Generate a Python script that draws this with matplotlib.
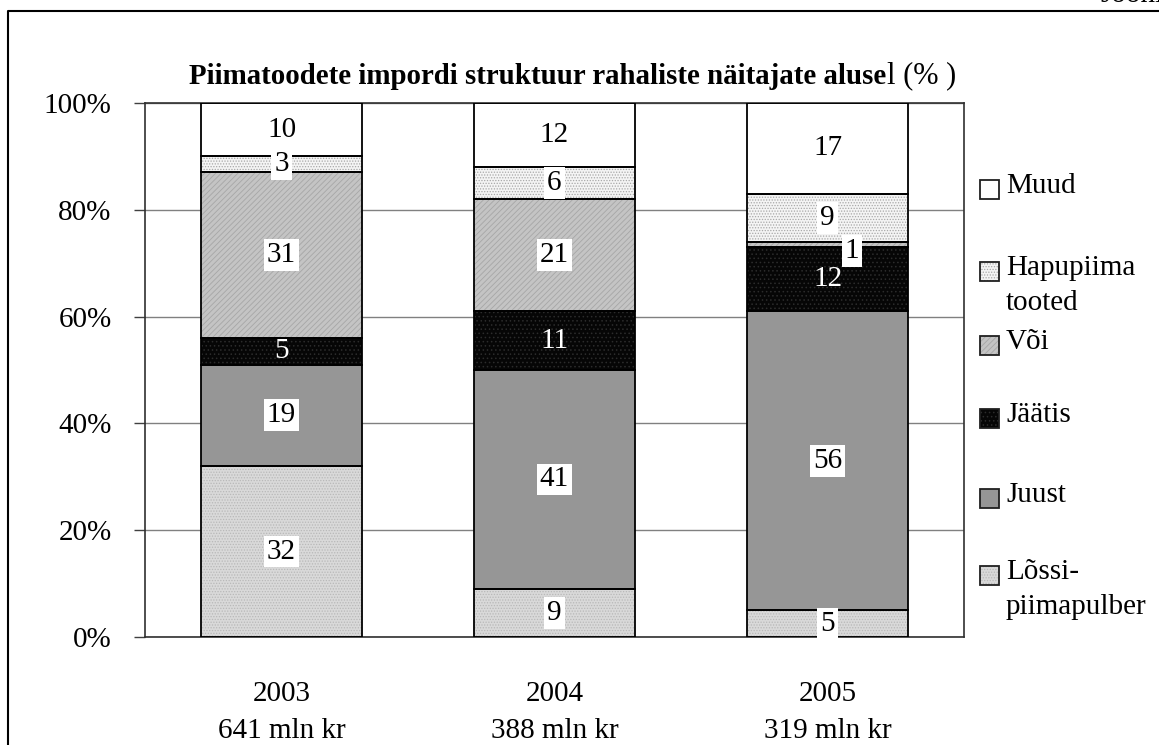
import numpy as np
import matplotlib
matplotlib.use("Agg")
import matplotlib.pyplot as plt
from matplotlib.patches import Rectangle
from matplotlib.lines import Line2D

plt.rcParams['font.family'] = ['Liberation Serif', 'DejaVu Serif']
plt.rcParams['hatch.linewidth'] = 0.6

"""data"""
years = ["2003", "2004", "2005"]
totals = ["641 mln kr", "388 mln kr", "319 mln kr"]
# bottom -> top
series = ["Lõssi-\npiimapulber", "Juust", "Jäätis", "Või", "Hapupiima\ntooted", "Muud"]
lossi = [32, 9, 5]
juust = [19, 41, 56]
jaatis = [5, 11, 12]
voi = [31, 21, 1]
hapu = [3, 6, 9]
muud = [10, 12, 17]
values = [lossi, juust, jaatis, voi, hapu, muud]

# face, hatch, hatch colour, label text colour
styles = [
    ("#d9d9d9", "......", "#b8b8b8", "black"),
    ("#969696", None, None, "black"),
    ("#060606", "....", "#2c2c2c", "white"),
    ("#c4c4c4", "//////", "#a6a6a6", "black"),
    ("#f4f4f4", "......", "#a8a8a8", "black"),
    ("#ffffff", None, None, "black"),
]

fig = plt.figure(figsize=(11.59, 7.45), dpi=100)
ax = fig.add_axes([145/1159, 1 - 637/745, 819/1159, 534/745])

x = np.arange(len(years))
w = 0.59
bottom = np.zeros(len(years))
for vals, (fc, hatch, hc, tc) in zip(values, styles):
    vals = np.array(vals, dtype=float)
    # hatch layer (hatch colour comes from edgecolor)
    ax.bar(x, vals, w, bottom=bottom, color=fc, hatch=hatch,
           edgecolor=hc if hc else fc, linewidth=0, zorder=2)
    ax.bar(x, vals, w, bottom=bottom, fill=False, edgecolor="black",
           linewidth=1.3, zorder=3)
    for xi, v, b in zip(x, vals, bottom):
        dx = 0.09 if v < 2 else 0
        dy = -1.2 if v < 2 else 0
        box = None if tc == "white" else dict(facecolor="white", edgecolor="none", pad=2)
        ax.text(xi + dx, b + v / 2 + dy, f"{int(v)}", ha="center", va="center",
                fontsize=21, color=tc, bbox=box, zorder=4)
    bottom += vals

ax.set_xlim(-0.5, 2.5)
ax.set_ylim(0, 100)
ax.set_yticks(np.arange(0, 101, 20))
ax.set_yticklabels([f"{t}%" for t in range(0, 101, 20)])
ax.set_xticks(x)
ax.set_xticklabels([f"{y}\n{t}" for y, t in zip(years, totals)], linespacing=1.55)
ax.tick_params(axis="y", length=8, width=1, labelsize=21, pad=16, color="#404040")
ax.tick_params(axis="x", length=0, labelsize=21, pad=32)
ax.yaxis.grid(True, color="#808080", linewidth=1)
ax.set_axisbelow(True)
for s in ax.spines.values():
    s.set_color("#303030")
    s.set_linewidth(1.2)

# title: bold part + regular tail
fig.text(886/1159, 1 - 76/745, "Piimatoodete impordi struktuur rahaliste näitajate aluse",
         fontsize=20.8, fontweight="bold", ha="right", va="center")
fig.text(887/1159, 1 - 76/745, "l (% )", fontsize=22, ha="left", va="center")

# legend, drawn manually (top entry first)
leg_y = [189, 271, 345, 418, 498, 575]
for name, (fc, hatch, hc, tc), yy in zip(series[::-1], styles[::-1], leg_y):
    y0 = 1 - (yy + 10) / 745
    fig.patches.append(Rectangle((980/1159, y0), 19/1159, 19/745, transform=fig.transFigure,
                                 facecolor=fc, hatch=hatch, edgecolor=hc if hc else fc,
                                 linewidth=0))
    fig.patches.append(Rectangle((980/1159, y0), 19/1159, 19/745, transform=fig.transFigure,
                                 fill=False, edgecolor="#202020", linewidth=1.3))
    fig.text(1006/1159, 1 - (yy - 16) / 745, name, fontsize=21, ha="left", va="top",
             linespacing=1.45)

# outer frame and caption (caption is clipped at the top edge, as in the source page)
fig.add_artist(Line2D([8/1159, 8/1159, 1.0], [0.0, 1 - 11/745, 1 - 11/745],
                      transform=fig.transFigure, color="black", linewidth=1.5))
fig.text(1100/1159, 1 - 2/745, "Joonis", fontsize=21, ha="left", va="baseline")

fig.savefig("out.png", dpi=100)
